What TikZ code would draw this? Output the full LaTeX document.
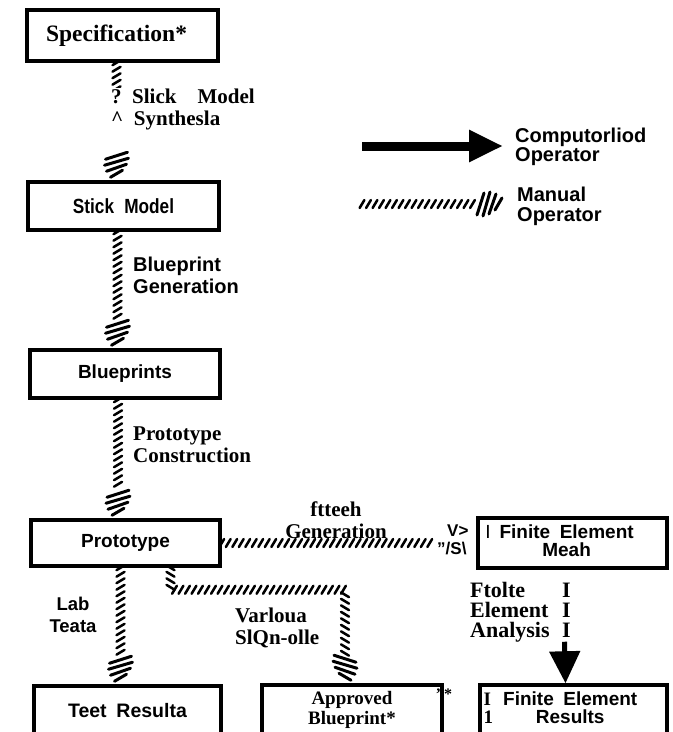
\documentclass[tikz,border=0pt]{standalone}
\usepackage{fontspec}
\setmainfont{Liberation Serif}
\setsansfont{Liberation Sans}
\newfontfamily\narrowsf[FakeStretch=0.84]{Liberation Sans}
\usetikzlibrary{arrows.meta,decorations.markings}

\tikzset{
  box/.style={draw,line width=3.5pt,inner sep=0pt,align=center,
    font=\fontsize{19}{20}\selectfont\sffamily\bfseries},
  serifl/.style={inner sep=0pt,align=left,font=\fontsize{21}{22}\selectfont\bfseries},
  sansl/.style={inner sep=0pt,align=left,font=\fontsize{20}{22}\selectfont\sffamily\bfseries},
  tick/.style={line width=2.5pt,line cap=round},
  headtick/.style={line width=3pt,line cap=round},
  % hatched connector (manual), #1 = slant sign
  manualline/.style={decoration={markings,
      mark=between positions 0 and 1 step 6.5pt with
        {\draw[tick,yscale=#1] (-2.4pt,4pt) -- (2.4pt,-4pt);}},decorate},
  manualline/.default=1,
  manualarrow/.style={decoration={markings,
      mark=between positions 0 and -28pt step 6.5pt with
        {\draw[tick,yscale=#1] (-2.4pt,4pt) -- (2.4pt,-4pt);},
      mark=at position -0.5pt with
        {\begin{scope}[yscale=#1]
           \foreach \d/\w in {24/11,18/12,12/10,6/6}
             \draw[headtick] (-\d pt-3.5pt,\w pt) -- (-\d pt+3.5pt,-\w pt);
         \end{scope}}},decorate},
  manualarrow/.default=1,
  compu/.style={line width=#1,-{Triangle[length=34pt,width=30pt]}},
  compu/.default=9pt
}

\begin{document}
\begin{tikzpicture}[x=1pt,y=-1pt]
  \clip (0,0) rectangle (673,732);

  % ---- boxes ------------------------------------------------------------
  \node[box,minimum width=191pt,minimum height=51pt,
        font=\fontsize{23.5}{24}\selectfont\bfseries] (spec) at (122.5,35.5) {Specification*\hspace*{12pt}};
  \node[box,minimum width=191pt,minimum height=48pt,
        font=\fontsize{20.5}{22}\selectfont\narrowsf\bfseries] (stick) at (123.5,206) {Stick\enspace Model};
  \node[box,minimum width=190pt,minimum height=48pt] (blue) at (125,374) {Blueprints};
  \node[box,minimum width=189pt,minimum height=46pt] (proto) at (125.5,543) {Prototype};
  \node[box,minimum width=187pt,minimum height=50pt,
        font=\fontsize{19.5}{20}\selectfont\sffamily\bfseries] (teet) at (127.5,711) {Teet\enspace Resulta};
  \node[box,minimum width=180pt,minimum height=50pt,
        font=\fontsize{19}{20}\selectfont\bfseries] (appr) at (352,710) {Approved\\Blueprint*};
  \node[box,minimum width=189pt,minimum height=50pt] (mesh) at (572.5,543)
        {\begin{tabular}{@{}l@{\hspace{9pt}}c@{\hspace{26pt}}}
           {\mdseries I} & Finite\enspace Element\\[-2pt] & Meah
         \end{tabular}};
  \node[box,minimum width=187pt,minimum height=50pt] (res) at (573.5,710)
        {\begin{tabular}{@{}l@{\hspace{10pt}}c@{\hspace{26pt}}}
           \rmfamily I & Finite\enspace Element\\[-2pt] \rmfamily 1 & Results
         \end{tabular}};

  % ---- manual (hatched) connectors --------------------------------------
  \path[manualarrow] ([xshift=-6pt]spec.south) -- ([xshift=-6pt]spec.south |- stick.north);
  \path[manualarrow] ([xshift=-6pt]stick.south) -- ([xshift=-6pt]stick.south |- blue.north);
  \path[manualarrow] ([xshift=-7pt]blue.south) -- ([xshift=-7pt]blue.south |- proto.north);
  \path[manualarrow] ([xshift=-5pt]proto.south) -- ([xshift=-5pt]proto.south |- teet.north);
  \path[manualarrow=-1] ([xshift=45pt]proto.south) -- ++(0,22) -| ([xshift=-7pt]appr.north);
  \path[manualline=-1] (proto.east) -- ([xshift=-46pt]mesh.west);

  % ---- computer connector -----------------------------------------------
  \draw[compu=5pt,-{Triangle[length=32pt,width=30pt]}]
        ([xshift=-8pt,yshift=-72pt]mesh.south) -- ([xshift=-8pt]res.north);

  % ---- labels -----------------------------------------------------------
  \node[serifl,anchor=north west,fill=white,inner sep=1pt,text depth=24pt] (synlbl) at (110,88)
        {?\enspace Slick\quad Model\\\textasciicircum\enspace Synthesla};
  \node[sansl,anchor=north west] (genlbl) at (133,257) {Blueprint\\Generation};
  \node[serifl,anchor=north west] (conlbl) at (133,427) {Prototype\\Construction};
  \node[sansl,align=center,anchor=north,font=\fontsize{18.5}{22}\selectfont\sffamily\bfseries]
        (lablbl) at (73,597) {Lab\\Teata};
  \node[serifl,anchor=north west] (sgnlbl) at (235,608) {Varloua\\SlQn-olle};
  \node[serifl,align=center,anchor=north] (meshlbl) at (336,502) {ftteeh\\Generation};
  \node[sansl,anchor=north west,font=\fontsize{17}{18}\selectfont\sffamily\bfseries]
        (vmark) at (447,525) {V>};
  \node[sansl,anchor=north west,font=\fontsize{17}{18}\selectfont\sffamily\bfseries]
        (smark) at (437,542) {"/S\textbackslash};
  \node[serifl,font=\fontsize{16}{16}\selectfont\bfseries] (cmark) at (444,694) {"*};
  \node[serifl,anchor=north west,font=\fontsize{22}{20}\selectfont\bfseries] (fealbl) at (470,582)
        {\makebox[92pt][l]{Ftolte}I\\\makebox[92pt][l]{Element}I\\\makebox[92pt][l]{Analysis}I};

  % ---- legend -----------------------------------------------------------
  \coordinate (cstart) at (362,146);
  \coordinate (cend) at (503,146);
  \draw[compu] (cstart) -- (cend);
  \node[sansl,anchor=north west,font=\fontsize{20}{19}\selectfont\sffamily\bfseries]
        (clbl) at (515,128) {Computorliod\\Operator};
  \coordinate (mstart) at (362,204);
  \coordinate (mend) at (505,204);
  \path[manualarrow=-1] (mstart) -- (mend);
  \node[sansl,anchor=north west,font=\fontsize{20}{20}\selectfont\sffamily\bfseries]
        (mlbl) at (517,187) {Manual\\Operator};
\end{tikzpicture}
\end{document}
